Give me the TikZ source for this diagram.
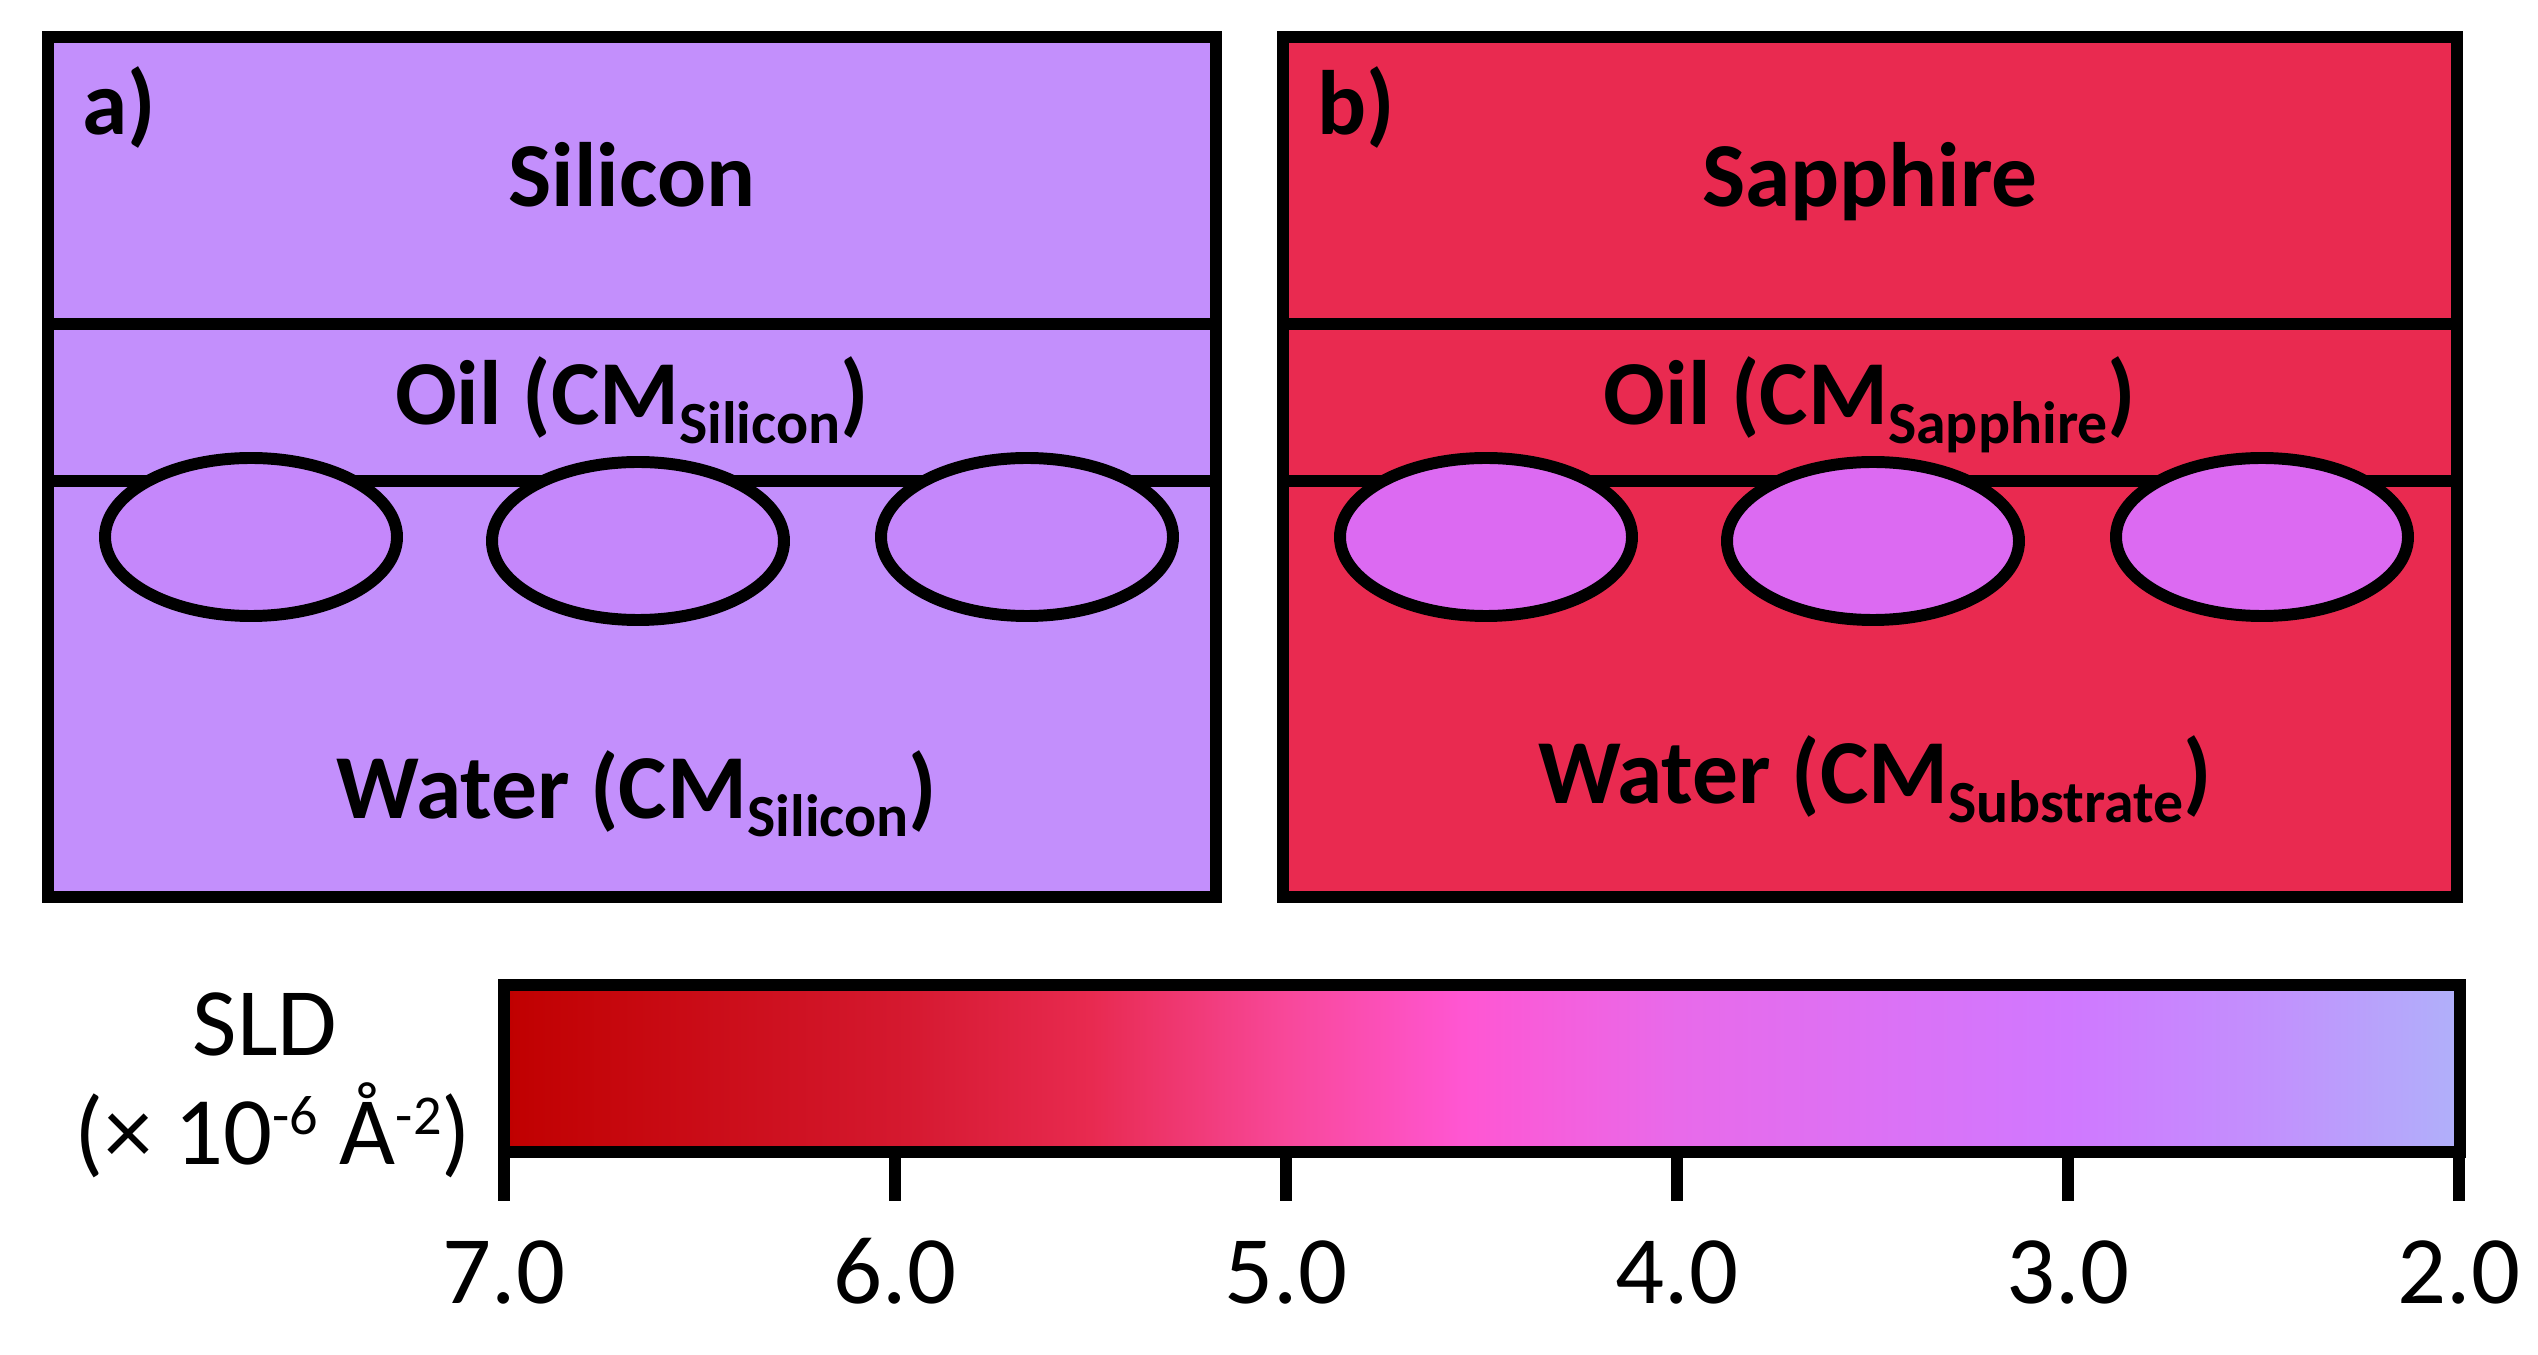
\documentclass[tikz,border=0pt]{standalone}
\usepackage{fontspec}
\setmainfont{Carlito}
\usetikzlibrary{positioning}

% 颜色
\definecolor{silfill}{HTML}{C38FFC}
\definecolor{sildrop}{HTML}{C587FB}
\definecolor{sapfill}{HTML}{E92A50}
\definecolor{sapdrop}{HTML}{DC6AF2}
\definecolor{sldA}{HTML}{C00000}
\definecolor{sldB}{HTML}{D4182E}
\definecolor{sldC}{HTML}{E82A50}
\definecolor{sldD}{HTML}{F8489A}
\definecolor{sldE}{HTML}{FF56D2}
\definecolor{sldF}{HTML}{E86AEA}
\definecolor{sldG}{HTML}{D078FF}
\definecolor{sldH}{HTML}{C290FD}
\definecolor{sldI}{HTML}{B0B0FA}

% 色标的渐变
\pgfdeclarehorizontalshading{sldbar}{100bp}{color(0bp)=(sldA); color(25bp)=(sldA);
  color(35bp)=(sldB); color(40bp)=(sldC); color(45bp)=(sldD); color(49.5bp)=(sldE);
  color(55bp)=(sldF); color(65bp)=(sldG); color(70bp)=(sldH); color(75bp)=(sldI);
  color(100bp)=(sldI)}

% 上下标
\newcommand{\subtxt}[1]{\raisebox{-0.2em}{\fontsize{17}{17}\selectfont #1}}
\newcommand{\suptxt}[1]{\raisebox{0.3em}{\fontsize{16}{16}\selectfont #1}}

\begin{document}
\begin{tikzpicture}[x=0.01cm, y=-0.01cm,
		bord/.style={line width=3.4pt},
		lbl/.style={font=\fontsize{26}{31}\selectfont\bfseries, inner sep=0pt, anchor=base},
		tickl/.style={font=\fontsize{27.5}{33}\selectfont, inner sep=0pt, anchor=base}]
		% 画布大小
		\useasboundingbox (0, 0) rectangle (2538, 1355);

		% 两个样品面板
		\foreach \nm/\dx/\w/\bg/\dr/\plab/\subs/\osub/\wsub/\wy in {
				a/0/1168/silfill/sildrop/a)/Silicon/Silicon/Silicon/818,
				b/1235/1174/sapfill/sapdrop/b)/Sapphire/Sapphire/Substrate/804} {
				% 外框
				\draw[bord, fill=\bg] (48+\dx, 37) rectangle ++(\w, 860);
				% 两条界面线
				\draw[bord] (48+\dx, 324) -- ++(\w, 0);
				\draw[bord] (48+\dx, 481) -- ++(\w, 0);
				% 三个液滴
				\foreach \ex/\ey in {203/537, 590/541, 979/537}
					\draw[bord, fill=\dr] (48+\dx+\ex, \ey) ellipse (146 and 79);
				% 文字
				\node[lbl, anchor=base west] (tag-\nm) at (82+\dx, 135) {\plab};
				\node[lbl] (sub-\nm) at (48+\dx+0.5*\w, 207) {\subs};
				\node[lbl] (oil-\nm) at (48+\dx+0.5*\w, 425) {Oil (CM\subtxt{\osub})};
				\node[lbl] (water-\nm) at (53+\dx+0.5*\w, \wy) {Water (CM\subtxt{\wsub})};
			}

		% 色标
		\shade[shading=sldbar] (504, 985) rectangle (2460, 1152);
		\draw[bord] (504, 985) rectangle (2460, 1152);
		\foreach \i/\v in {0/7.0, 1/6.0, 2/5.0, 3/4.0, 4/3.0, 5/2.0} {
				% 刻度和数值
				\draw[bord] ({504+391*\i}, 1152) -- ++(0, 49);
				\node[tickl] (tick-\i) at ({504+391*\i}, 1303) {\v};
			}

		% 色标名称
		\node[tickl] (sld) at (265, 1055) {SLD};
		\node[tickl] (sldunit) at (273, 1164) {(× 10\suptxt{-6} Å\suptxt{-2})};
	\end{tikzpicture}
\end{document}
